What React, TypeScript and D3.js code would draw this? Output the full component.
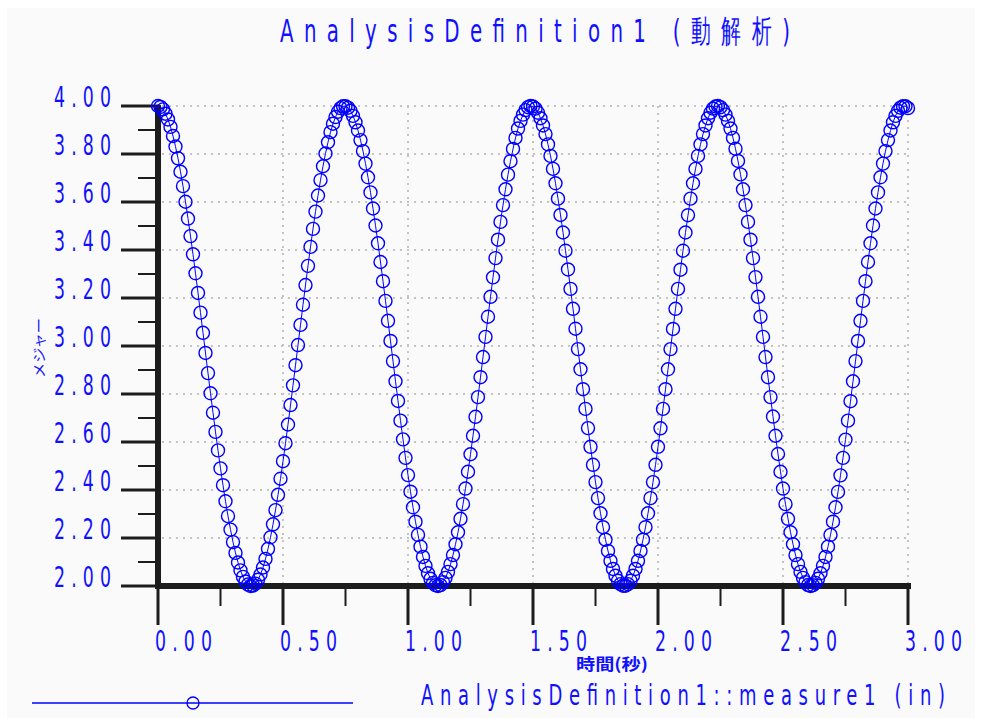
import * as d3 from "d3";

const timeStep = 0.01;
const measure1 = [
  4.0, 3.996, 3.986, 3.968, 3.944, 3.913, 3.875, 3.831, 3.782, 3.726,
  3.666, 3.601, 3.531, 3.458, 3.382, 3.303, 3.221, 3.139, 3.055, 2.971,
  2.887, 2.803, 2.722, 2.642, 2.565, 2.49, 2.42, 2.353, 2.291, 2.235,
  2.183, 2.138, 2.098, 2.065, 2.038, 2.019, 2.006, 2.0, 2.002, 2.01,
  2.026, 2.048, 2.077, 2.113, 2.155, 2.203, 2.257, 2.316, 2.38, 2.447,
  2.52, 2.595, 2.673, 2.754, 2.836, 2.92, 3.004, 3.088, 3.172, 3.254,
  3.334, 3.413, 3.488, 3.56, 3.627, 3.691, 3.749, 3.802, 3.849, 3.891,
  3.926, 3.954, 3.976, 3.991, 3.999, 3.999, 3.993, 3.98, 3.959, 3.932,
  3.898, 3.858, 3.812, 3.76, 3.703, 3.64, 3.573, 3.502, 3.428, 3.35,
  3.27, 3.188, 3.105, 3.021, 2.937, 2.853, 2.771, 2.689, 2.611, 2.534,
  2.462, 2.393, 2.328, 2.268, 2.213, 2.164, 2.121, 2.084, 2.053, 2.03,
  2.013, 2.003, 2.0, 2.004, 2.016, 2.034, 2.059, 2.091, 2.129, 2.174,
  2.224, 2.28, 2.341, 2.406, 2.476, 2.549, 2.626, 2.705, 2.787, 2.87,
  2.954, 3.038, 3.122, 3.205, 3.286, 3.366, 3.443, 3.517, 3.587, 3.653,
  3.714, 3.77, 3.821, 3.867, 3.906, 3.938, 3.964, 3.983, 3.995, 4.0,
  3.998, 3.989, 3.972, 3.949, 3.919, 3.883, 3.84, 3.792, 3.738, 3.678,
  3.614, 3.546, 3.473, 3.397, 3.319, 3.238, 3.155, 3.072, 2.987, 2.903,
  2.82, 2.738, 2.658, 2.58, 2.505, 2.433, 2.366, 2.303, 2.245, 2.193,
  2.146, 2.105, 2.071, 2.043, 2.022, 2.008, 2.001, 2.001, 2.008, 2.022,
  2.043, 2.071, 2.105, 2.146, 2.193, 2.245, 2.303, 2.366, 2.433, 2.505,
  2.58, 2.657, 2.738, 2.82, 2.903, 2.987, 3.071, 3.155, 3.238, 3.318,
  3.397, 3.473, 3.545, 3.614, 3.678, 3.738, 3.792, 3.84, 3.883, 3.919,
  3.949, 3.972, 3.989, 3.998, 4.0, 3.995, 3.983, 3.964, 3.938, 3.906,
  3.867, 3.822, 3.771, 3.715, 3.653, 3.587, 3.517, 3.443, 3.366, 3.287,
  3.205, 3.122, 3.038, 2.954, 2.87, 2.787, 2.706, 2.626, 2.55, 2.476,
  2.406, 2.341, 2.28, 2.224, 2.174, 2.129, 2.091, 2.059, 2.034, 2.016,
  2.004, 2.0, 2.003, 2.013, 2.03, 2.053, 2.084, 2.121, 2.164, 2.213,
  2.268, 2.328, 2.392, 2.461, 2.534, 2.61, 2.689, 2.77, 2.853, 2.937,
  3.021, 3.105, 3.188, 3.27, 3.35, 3.428, 3.502, 3.573, 3.64, 3.703,
  3.76, 3.812, 3.858, 3.898, 3.932, 3.959, 3.98, 3.993, 3.999, 3.999,
  3.991,
];

const xTicks = [0, 0.5, 1, 1.5, 2, 2.5, 3];
const xTickLabels = ["0.00", "0.50", "1.00", "1.50", "2.00", "2.50", "3.00"];
const xMinorTicks = [0.25, 0.75, 1.25, 1.75, 2.25, 2.75];
const yTicks = [2, 2.2, 2.4, 2.6, 2.8, 3, 3.2, 3.4, 3.6, 3.8, 4];
const yTickLabels = ["2.00", "2.20", "2.40", "2.60", "2.80", "3.00", "3.20", "3.40", "3.60", "3.80", "4.00"];
const yMinorTicks = [2.1, 2.3, 2.5, 2.7, 2.9, 3.1, 3.3, 3.5, 3.7, 3.9];

const title = "AnalysisDefinition1 (動解析)";
const xTitle = "時間(秒)";
const yTitle = "メジャー";
const legendLabel = "AnalysisDefinition1::measure1 (in)";

const BLUE = "#0000ff";
const TEXT = "#1010ff";
const AXIS = "#1c1c1c";
const FONT = "'DejaVu Sans', sans-serif";
const CJK = "'Noto Sans CJK JP', sans-serif";

// thin, tall, widely spaced lettering like the plotter font
function NarrowText({ x, y, size, width, children }: any) {
  const sx = 0.62;
  return (
    <text
      transform={`translate(${x},${y}) scale(${sx},1)`}
      fill={TEXT}
      fontFamily={FONT}
      fontSize={size}
      textLength={width / sx}
      lengthAdjust="spacing"
    >
      {children}
    </text>
  );
}

export default function App() {
  const width = 984;
  const height = 718;

  const x = d3.scaleLinear([0, 3], [158, 908]);
  const y = d3.scaleLinear([2, 4], [586, 106]);

  const points = measure1.map((v, i) => [i * timeStep, v] as [number, number]);
  const line = d3
    .line<[number, number]>()
    .x((d) => x(d[0]))
    .y((d) => y(d[1]));

  const x0 = x(0);
  const yBase = y(2);

  return (
    <svg
      width={width}
      height={height}
      style={{ position: "absolute", left: 0, top: 0, background: "#ffffff" }}
    >
      <rect x={7} y={8} width={968} height={710} fill="#fafafa" />

      <NarrowText x={280} y={42} size={32} width={510}>
        {title}
      </NarrowText>

      {/* grid */}
      <g stroke="#c4c4c4" strokeWidth={2} strokeDasharray="2 5">
        {yTicks.slice(1).map((t) => (
          <line key={t} x1={x0 + 4} x2={x(3)} y1={y(t)} y2={y(t)} />
        ))}
        {xTicks.slice(1).map((t) => (
          <line key={t} x1={x(t)} x2={x(t)} y1={y(4)} y2={yBase - 3} />
        ))}
      </g>

      {/* ticks */}
      <g stroke={AXIS}>
        {yTicks.map((t) => (
          <line key={t} x1={121} x2={x0} y1={y(t)} y2={y(t)} strokeWidth={3} />
        ))}
        {yMinorTicks.map((t) => (
          <line key={t} x1={138} x2={x0} y1={y(t)} y2={y(t)} strokeWidth={2} />
        ))}
        {xTicks.map((t) => (
          <line key={t} x1={x(t)} x2={x(t)} y1={yBase} y2={625} strokeWidth={3} />
        ))}
        {xMinorTicks.map((t) => (
          <line key={t} x1={x(t)} x2={x(t)} y1={yBase} y2={606} strokeWidth={2} />
        ))}
      </g>

      {/* axes */}
      <line x1={x0} x2={x0} y1={y(4) - 1} y2={yBase + 3} stroke={AXIS} strokeWidth={6} />
      <line x1={x0 - 3} x2={x(3) + 3} y1={yBase} y2={yBase} stroke={AXIS} strokeWidth={6} />

      {/* tick labels */}
      {yTicks.map((t, i) => (
        <NarrowText key={t} x={54} y={y(t) + 1} size={28} width={57}>
          {yTickLabels[i]}
        </NarrowText>
      ))}
      {xTicks.map((t, i) => (
        <NarrowText key={t} x={x(t) - 3} y={651} size={28} width={57}>
          {xTickLabels[i]}
        </NarrowText>
      ))}

      <text
        x={576}
        y={670}
        fill={TEXT}
        fontFamily={CJK}
        fontWeight="bold"
        fontSize={16}
        textLength={72}
        lengthAdjust="spacingAndGlyphs"
      >
        {xTitle}
      </text>
      <text
        transform="translate(44,378) rotate(-90)"
        fill={TEXT}
        fontFamily={CJK}
        fontSize={14}
        textLength={60}
        lengthAdjust="spacingAndGlyphs"
      >
        {yTitle}
      </text>

      {/* series */}
      <path d={line(points) ?? ""} fill="none" stroke={BLUE} strokeWidth={1} />
      <g fill="none" stroke={BLUE} strokeWidth={1.4}>
        {points.map((d, i) => (
          <circle key={i} cx={x(d[0])} cy={y(d[1])} r={6.5} />
        ))}
      </g>

      {/* legend */}
      <line x1={32} x2={353} y1={703} y2={703} stroke={BLUE} strokeWidth={1.5} />
      <circle cx={193} cy={703} r={6} fill="none" stroke={BLUE} strokeWidth={1.3} />
      <NarrowText x={421} y={705} size={29} width={524}>
        {legendLabel}
      </NarrowText>
    </svg>
  );
}
